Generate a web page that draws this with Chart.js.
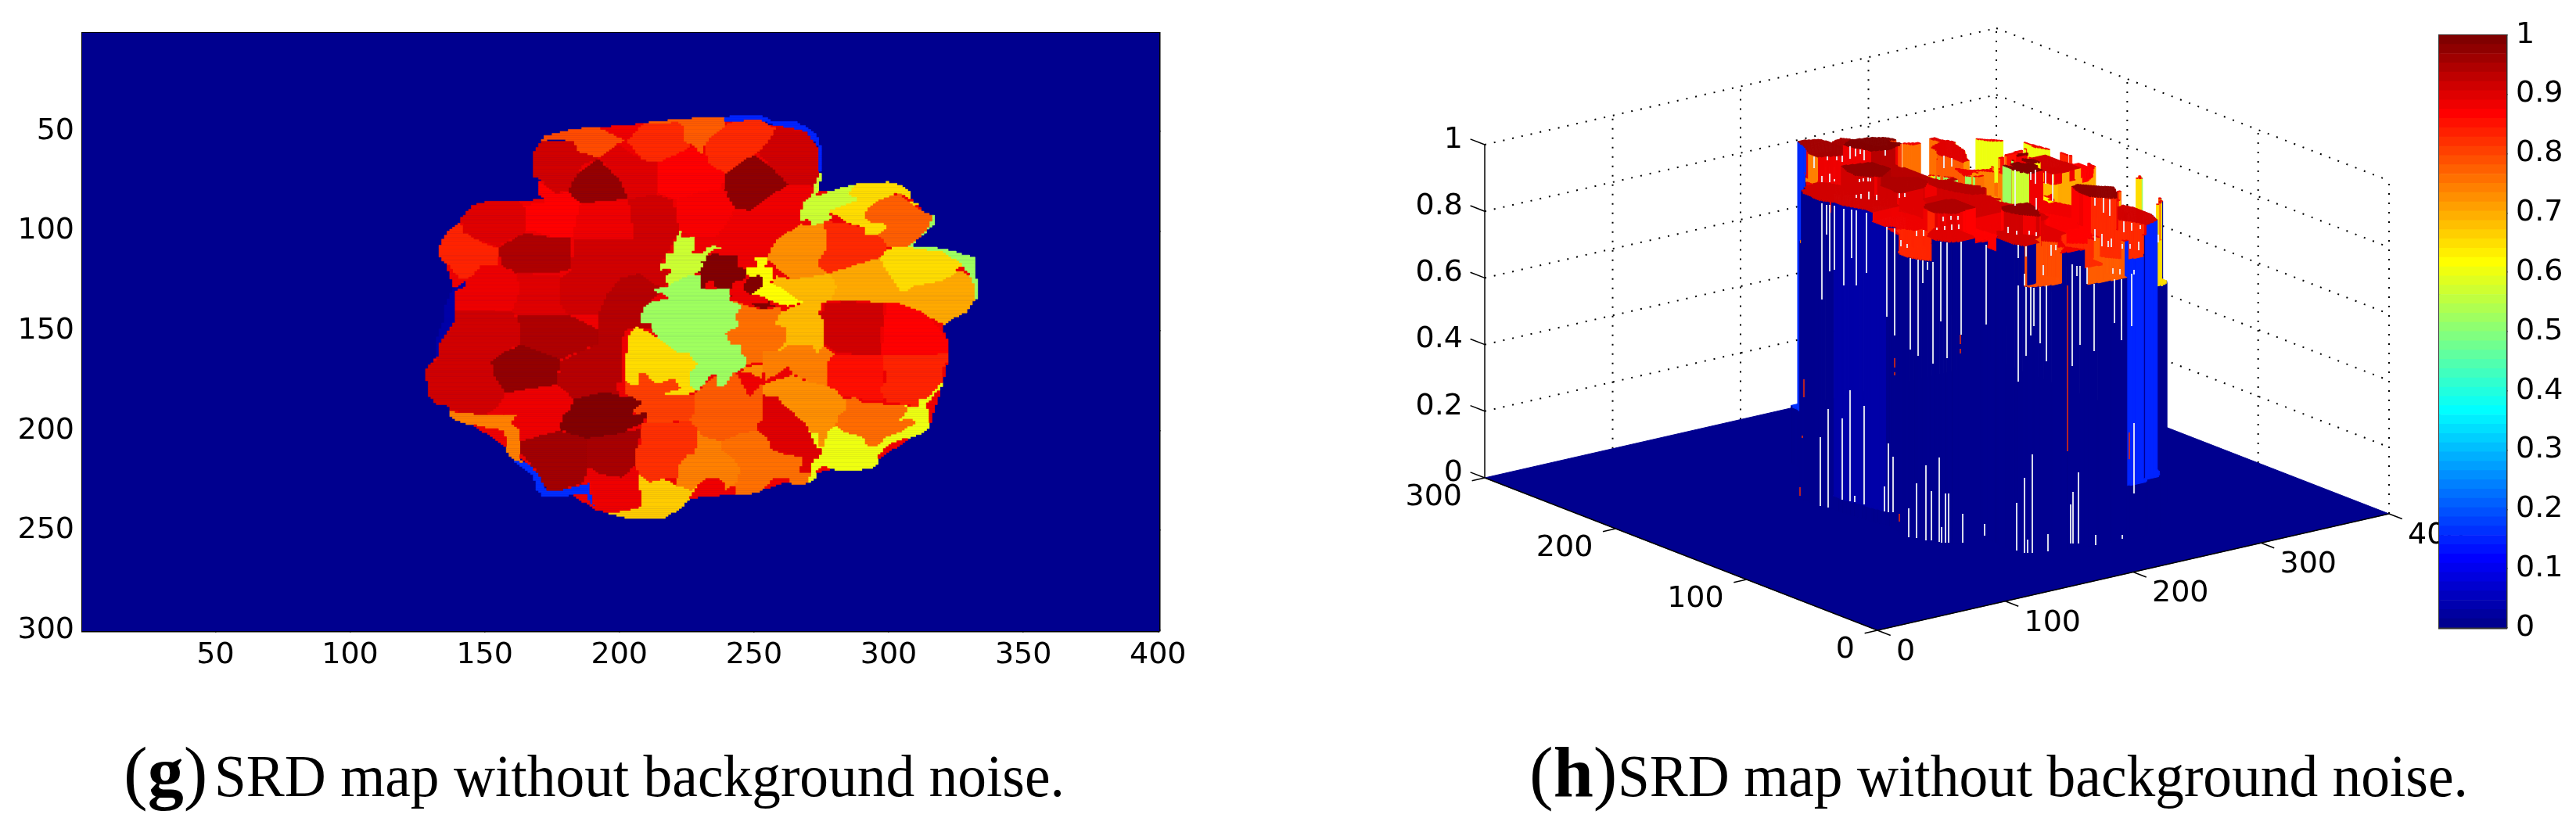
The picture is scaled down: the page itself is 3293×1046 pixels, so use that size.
<!DOCTYPE html>
<html>
<head>
<meta charset="utf-8">
<title>SRD map</title>
<script src="https://cdn.jsdelivr.net/npm/chart.js@4"></script>
<style>
  html, body { margin: 0; padding: 0; background: #fff; width: 3293px; height: 1046px; overflow: hidden; }
  canvas { position: absolute; }
  .cap { position: absolute; white-space: nowrap; font-family: "Liberation Serif", serif; color: #000; line-height: 100px; }
  .cap.let { font-size: 92px; top: 937px; }
  .cap.txt { font-size: 76px; top: 942px; transform: scaleX(0.966); transform-origin: left center; }
</style>
</head>
<body>
<div style="position:absolute;left:0;top:0;width:1560px;height:900px"><canvas id="mapa"></canvas></div>
<div style="position:absolute;left:1750px;top:0;width:1543px;height:900px"><canvas id="sup"></canvas></div>
<div style="position:absolute;left:3100px;top:0;width:193px;height:900px"><canvas id="barra"></canvas></div>
<div class="cap let" style="left:158px">(<b>g</b>)</div>
<div class="cap txt" style="left:274px">SRD map without background noise.</div>
<div class="cap let" style="left:1955px">(<b>h</b>)</div>
<div class="cap txt" style="left:2068px">SRD map without background noise.</div>
<script>
// tick labels
const xTicks = [50, 100, 150, 200, 250, 300, 350, 400];
const yTicks = [50, 100, 150, 200, 250, 300];
const barTicks = [0, 0.1, 0.2, 0.3, 0.4, 0.5, 0.6, 0.7, 0.8, 0.9, 1];
const zTicks3d = [0, 0.2, 0.4, 0.6, 0.8, 1];
const xTicks3d = [0, 100, 200, 300, 400];
const yTicks3d = [0, 100, 200, 300];

// segment outlines of the SRD map, in map pixels (x, row)
const fundo = [[133.5,107],[146,87],[172,84],[169,62],[192,48],[211,46],[240,44],[264,48],[274,60],[272,80],[285,80],[305,80],[316,94],[308,108],[331,115],[332,134],[320,147],[322,164],[320,176],[315,198],[296,214],[273,221],[250,231],[225,234],[205,243],[192,240],[170,222],[160,210],[140,192],[129,180],[133,155],[139,130]];
const azulTopo = [[239.4,42.7],[245.2,41.8],[252,41.8],[256.4,44.6],[264.1,44.6],[269.9,47.9],[273.3,52.4],[275.2,58.9],[275.2,70.5],[274.2,70.5],[274.2,58.9],[272.3,55],[269.9,50.5],[264.1,47.9],[258.3,47.2],[252.5,44],[244.3,44.6],[239.4,44.6]];
const azulEsq = [[139.3,137.8],[139.3,144.3],[136.4,150.7],[133.5,155.9],[133.5,163],[132.5,163],[132.5,152.7],[135.4,143],[135.4,137.8],[136.9,132.6],[138.3,128.8],[143,124.9],[143.1,127.5],[139.3,130]];
const azulBaixo = [[160.5,214.1],[166.4,216.7],[170.2,221.9],[172.6,229.7],[178.9,229.7],[188.6,226.4],[190.5,237.4],[192,240],[189.6,236.8],[187.1,231.6],[178.9,232.9],[171.7,232.9],[169.3,229.7],[168.3,223.2],[162.5,217.4]];
const faixaLaranja = [[137.3,190.2],[150.4,192.1],[162.5,192.1],[159.6,196.7],[163.5,199.9],[163,205.1],[163.5,210.3],[162.5,214.1],[164.4,216.1],[160.5,214.1],[158.1,210.3],[157.2,199.9],[150.4,198.6],[146,197.3],[141.2,196],[137.3,192.8]];
const r1 = [[168.3,60.2],[172.2,52.4],[181.8,49.2],[191.5,47.5],[200.2,53.1],[202.6,55],[199.2,56.3],[192.5,63.4],[184.7,60.2],[182.8,55],[175,53.7],[171.2,55],[169.3,60.2]];
const r2 = [[168.3,60.2],[171.2,55],[182.8,55],[184.7,60.2],[192.5,63.4],[186.7,66.6],[180.9,79.6],[176,80.9],[169.7,73.1],[168.3,73.1]];
const r3 = [[192.5,63.8],[200.2,74.4],[203.6,84.1],[196.3,84.8],[185.7,86.3],[180.4,80.2],[184.7,70.5],[188.6,66.4]];
const r4 = [[192.5,63.4],[199.2,56.3],[208.4,64],[214.2,65.4],[214.2,81.5],[203.1,84.1],[200.2,74.4]];
const r5 = [[203.1,55],[208.4,46.6],[221.5,45.3],[224.4,47.2],[226.3,57.6],[217.6,64],[214.2,65.4],[208.4,64]];
const r6 = [[211.4,45.3],[222,44],[234.1,42.7],[239.4,42.7],[238.9,47.2],[232.2,55],[230.2,62.1],[228.3,57.6],[224.4,55],[224,47.2],[222,45.3],[211.4,46]];
const r7 = [[214.3,65.4],[224,59.5],[228.3,57.6],[230.2,62.1],[232.2,60.8],[239.4,71.2],[238,78.3],[230.2,80.2],[220.6,84.1],[214.3,80.9]];
const r8 = [[232.2,55],[238.9,47.2],[244.3,44.6],[252.5,44],[258.3,49.2],[254.9,55.6],[251,60.8],[244.7,65.4],[239.4,71.2],[233.1,65.4],[232.2,60.8]];
const r9 = [[258.3,47.2],[264.1,47.9],[269.9,50.5],[274.2,58.9],[274.2,70.5],[271.8,77.6],[263.1,77],[256.4,67.9],[251,60.8],[254.9,55.6]];
const r10 = [[248.6,62.5],[251.5,62.5],[256.4,67.9],[263.1,77],[255.9,82.2],[249.1,89.9],[243.3,88.6],[238.5,78.3],[239.4,71.2],[244.7,65.4]];
const r11 = [[220.6,84.1],[230.2,80.2],[238,78.3],[243.3,88.6],[239.9,96.4],[236,102.9],[228.3,103.5],[222.5,100.3],[221.1,93.8]];
const r12 = [[243.3,88.6],[249.1,89.9],[255.9,82.2],[263.1,77],[272.3,77.6],[271.3,81.5],[268.4,86.1],[267,96.4],[258.3,104.2],[253.5,111.9],[246.7,117.1],[243.8,113.2],[234.1,109.3],[227.8,104.2],[236,102.9],[239.9,96.4]];
const r13 = [[274.2,70.5],[275.2,71.2],[273.3,82.2],[282.5,78.3],[288.3,76.3],[284.4,80.9],[288.3,84.1],[277.6,89.9],[279.6,93.8],[271.8,97.1],[269.4,93.8],[267,95.8],[267.1,89.9],[268.4,85.4],[271.3,81.5],[272.3,77]];
const r14 = [[284.4,80.9],[288.3,76.3],[299.9,75.4],[304.7,77],[308.1,80.9],[308.1,86.1],[311.5,87.3],[303.7,80.9],[296.5,84.1],[291.6,88.6],[291.2,93.8],[294,96.4],[297.9,95.8],[298.9,98.3],[296.5,101.6],[291.2,102.2],[291.2,98.3],[284.4,95.8],[277.6,89.9],[288.3,84.1]];
const r15 = [[296.5,84.1],[304.2,80.9],[307.6,85.4],[315.8,92.5],[315.3,97.1],[312.4,101.6],[306.2,108.1],[299.4,108.1],[296,101.6],[298.9,98.3],[297.9,95.8],[294,96.4],[291.2,93.8],[291.6,88.6]];
const r16 = [[315.8,92.5],[317.3,92.5],[316.8,96.4],[312.4,102.2],[308.1,107.4],[320.2,108.7],[331.8,113.2],[331.8,122.3],[333.2,125.5],[333.2,133.9],[331.3,133.9],[330.8,123.6],[327,117.1],[320.2,113.2],[306.2,108.1],[312.4,101.6]];
const r17 = [[299.4,108.7],[306.2,108],[320.2,110.6],[327.4,117.1],[323.1,122.3],[319.2,124.9],[309,127.5],[307.1,130],[304.2,130],[298.9,118.4],[296.5,113.2]];
const r18 = [[278.1,121],[288.3,116.5],[296.5,113.2],[298.9,118.4],[304.2,130],[309,127.5],[319.2,124.9],[324,120.3],[327.9,120.3],[331.3,123.6],[332.3,133.9],[328.9,140.4],[325,143],[320.2,146.9],[316.3,144.3],[312,140.4],[298.9,136.5],[287.3,134.6],[278.6,134.6],[281,128.1]];
const r19 = [[254.4,113.2],[258.3,104.2],[267,96.4],[271.8,97.1],[276.2,95.1],[277.1,108.1],[274.2,117.1],[278.1,121],[264.1,124.2],[258.3,118.4]];
const r20 = [[276.2,95.1],[284.4,96.4],[291.2,98.3],[291.6,102.2],[296.5,101.6],[299.4,108.1],[298.9,111.9],[288.3,117.1],[278.1,121],[273.3,117.1],[277.1,108.1]];
const r21 = [[258.3,122.3],[264.1,124.2],[278.1,121],[281,128.1],[278.6,134.6],[275.2,136.5],[274.2,141.7],[276.2,145.6],[276.2,157.2],[273.3,161.1],[262.2,157.2],[259.3,159.8],[262.2,154.6],[262.2,148.2],[257.3,146.9],[260.2,140.4],[268,135.9],[260.2,128.8],[256.4,126.2]];
const r22 = [[249.6,113.2],[254.9,112.6],[254.4,118.4],[257.3,118.4],[256.4,126.2],[260.2,128.8],[264.1,132.6],[268,135.9],[262.2,137.8],[259.3,136.5],[255.9,135.2],[252.5,132.6],[248.6,132],[252.5,127.5],[253,123.6],[251.5,122.3],[247.7,123.6],[246.7,117.8],[251.5,117.8]];
const r23 = [[232.2,112],[235.1,111.3],[244.3,112.6],[244.3,117.8],[247.2,119],[247.2,124.2],[243.8,124.9],[241.8,126.2],[241.4,134],[242.3,129.4],[237.5,128.8],[234.6,128.1],[235.1,124.9],[232.7,124.6],[232.2,128.8],[230.2,129.4],[230.2,122.3],[229.3,121],[231.2,115.8],[229.3,115.8],[232.2,114.5]];
const r23b = [[246.7,124.2],[251.5,122.3],[253.3,123.6],[253,127.5],[249.6,131.3],[248.6,132.6],[249.6,136.5],[255.4,136.5],[255.9,131.3],[256.4,136.5],[259.3,137.2],[253.5,139.1],[249.6,137.8],[248.6,132.6],[246.2,129.4]];
const r24 = [[222.5,100.3],[223.5,103.5],[228.3,103.5],[227.3,111.3],[231.2,111.3],[232.2,108.1],[235.1,106.8],[238.9,108.7],[235.1,109.3],[232.7,112],[231.2,115.8],[229.3,121],[224.9,122.3],[217.7,128.1],[217.2,122.3],[219.1,119.7],[217.7,118.4],[215.3,120.3],[215.3,116.5],[217.2,116.5],[217.2,111.3],[220.1,111.3],[220.6,103.5]];
const r25 = [[225.9,121.6],[230.2,122.3],[230.2,129.4],[235.1,128.8],[241.4,127.5],[241.4,134.6],[245.2,137.8],[242.3,143],[244.3,146.9],[239.4,151.4],[240.9,156.6],[245.2,157.2],[245.2,161.1],[247.2,164.3],[246.7,168.2],[242.3,171.4],[239,177.9],[236,177.9],[236,172.1],[233.6,172.7],[229.3,180.5],[228.3,180.5],[225.4,176],[226.4,170.2],[228.8,166.9],[224.9,160.4],[222,161.7],[215.3,154.6],[211.9,150.1],[212.4,145.6],[207.5,145.6],[208.5,141],[209.5,137.8],[211.9,135.2],[218.2,133.9],[214.8,130.7],[212.4,129.4],[217.7,127.5]];
const r26 = [[202.7,152.7],[206.1,148.2],[211.9,150.7],[214.8,154.6],[222,161.7],[224.9,160.4],[228.8,166.9],[226.4,170.2],[226.4,172.7],[225.4,176],[228.3,180.5],[225.4,181.8],[217.7,182.4],[217.2,181.2],[223,179.2],[220.1,173.4],[216.7,175.3],[213.3,176],[209.5,170.8],[206.6,171.4],[207,176.6],[203.6,176.6],[202.2,174]];
const r27 = [[202.2,174.7],[207,176.6],[206.6,171.4],[209.5,170.8],[213.3,176],[220.1,173.4],[223,179.2],[217.2,181.8],[225.4,182.4],[228.3,181.2],[228.3,190.9],[226.4,194.7],[221.5,195.4],[209.9,196],[209.5,190.9],[205.6,192.1],[205.1,188.9],[208,187],[208,185.7],[202.2,181.8]];
const r28 = [[228.3,181.2],[236,172.1],[236,177.9],[239,177.9],[242.3,171.4],[243.8,172.1],[248.1,183.7],[253,176.6],[253,181.8],[253,194.7],[251,196],[251.5,199.9],[244.7,201.2],[238.5,205.1],[231.2,203.1],[229.3,199.9],[226.4,194.7],[228.3,190.9]];
const r29 = [[241.4,134.6],[249.6,138],[253.5,139.5],[260.2,137.8],[259.3,143],[257.3,146.9],[262.2,148.2],[262.2,154.6],[259.3,159.8],[253.5,160.4],[253.5,165.6],[247.2,166.9],[247.2,164.3],[245.2,161.1],[245.2,157.2],[240.9,156.6],[239.4,151.4],[244.3,146.9],[242.3,143]];
const r30 = [[262.2,157.2],[271.8,157.2],[273.3,161.1],[275.7,157.2],[280,161.7],[276.7,165.6],[277.1,177.9],[270.9,176],[264.1,171.4],[262.6,168.2],[254.4,175.3],[253.5,171.4],[253.5,165.6],[253.5,160.4],[259.3,159.8]];
const r30b = [[246.7,168.2],[253.5,166.3],[253.5,175.3],[248.6,170.8],[244.3,171.2]];
const r31 = [[253.5,176.6],[264.1,172.1],[270.9,176],[277.1,177.9],[279.6,179.2],[282.5,183.1],[284.4,184.4],[283.9,189.6],[281.5,192.1],[280,198],[276.7,201.2],[276.2,208.3],[274.2,208.3],[274.2,201.2],[271.3,201.2],[269.4,197.3],[265.1,192.1],[260.2,186.3],[258.3,183.1],[253.5,182.4]];
const r32 = [[253.5,182.4],[258.3,183.1],[260.2,186.3],[265.1,192.1],[269.4,197.3],[272.3,203.8],[272.8,208.3],[275.2,209.6],[274.2,213.5],[271.8,214.1],[270.9,220.6],[267,220.6],[268.4,213.5],[264.1,212.2],[259.3,210.9],[256.4,209],[255.9,205.1],[251,198.6],[251.5,196],[253,193.4],[253.5,189.6]];
const r33 = [[229.3,199.9],[231.2,203.1],[238.5,205.1],[238.5,210.3],[242.3,214.1],[245.2,219.3],[243.3,227.1],[239.4,229.7],[238.9,226.4],[236.5,223.9],[232.2,224.2],[229.3,227.1],[226.4,229.7],[220.6,227.1],[222,218],[223.5,215.4],[225.4,212.2],[228.3,211.6]];
const r33b = [[238.5,205.1],[244.7,201.2],[251.5,199.9],[255.9,205.1],[256.4,209],[259.3,210.9],[268.4,213.5],[267,220.6],[270.9,221.3],[269.9,226.4],[264.1,227.1],[262.2,223.9],[257.3,223.9],[255.4,227.7],[252,230.3],[249.1,231.6],[243.3,231.6],[243.3,227.1],[245.2,219.3],[242.3,214.1],[238.5,210.3]];
const r34 = [[208.5,196],[219.6,196],[226.4,194.7],[229.3,199.9],[228.3,211.6],[225.4,212.2],[222,218],[222,223.9],[216.7,223.9],[210.9,225.8],[207,221.9],[205.6,215.4],[206.6,208.3],[208.5,205.1]];
const r35 = [[207.5,221.9],[210.9,225.8],[216.7,223.9],[220.6,227.1],[226.4,229.7],[230.2,225.8],[227.8,231],[225.4,234.9],[223,238.7],[215.3,244.5],[205.6,244.5],[196.3,241.5],[202.2,240],[208,238.1],[208.5,233.6],[207.5,229.7]];
const r36 = [[269.4,197.3],[271.3,201.2],[274.2,201.2],[274.2,208.3],[276.2,208.3],[276.7,201.2],[280,198],[284.4,201.2],[290.2,203.2],[292.1,208.3],[295.5,208.3],[298.9,203.8],[303.7,201.2],[310,196.7],[309.1,194.1],[303.3,194.7],[306.2,192.1],[307.1,187.6],[303.3,187],[308.1,187.6],[311,187.6],[311.5,184.4],[314.9,183.1],[319.2,176],[320.2,175.3],[319.7,177.9],[314.4,186.3],[314.9,198],[312.4,201.2],[307.1,203.8],[302.3,205.7],[298.9,208.3],[296,212.9],[296,216.1],[293.6,218.7],[287.3,220],[282,220],[278.6,219.3],[275.2,218],[273.3,220.6],[272.8,223.2],[270.4,225.8],[268.4,225.8],[270.9,221.3],[271.8,214.1],[274.2,213.5],[275.2,209.6],[272.8,208.3]];
const r37 = [[284.4,184.4],[287.3,183.1],[290.6,185.7],[303.3,187],[307.1,187.6],[306.2,192.1],[303.3,194.7],[309.1,194.1],[310,196.7],[303.7,201.2],[298.9,203.8],[295.5,208.3],[292.1,208.3],[290.2,203.2],[284.4,201.2],[280,198],[281.5,192.1],[283.9,189.6]];
const r38 = [[276.2,135.6],[287.3,135.4],[297.9,136.5],[297,162.4],[287.3,161.7],[279.6,160.4],[276.2,157.2],[276.2,145.6],[274.2,141.7],[276.2,139]];
const r39 = [[298.9,136.5],[303.7,136.5],[312,140.4],[313.2,141.7],[316.3,144.3],[319.7,150.7],[322.1,154.6],[322.1,161.1],[308.6,162.4],[297,162.4]];
const r40 = [[276.2,165.6],[280,161.7],[287.3,161.7],[297.9,162.4],[298.9,184.4],[290.6,185],[287.3,183.1],[282.5,183.1],[279.6,179.2],[277.1,177.9],[276.7,165.6]];
const r41 = [[297.9,162.4],[308.6,162.4],[322.1,161.1],[322.1,164.3],[320.2,168.2],[320.2,175.3],[314.4,183.1],[311.5,184.4],[311,187.6],[308.1,187.6],[303.3,186.3],[298.9,185.7],[297,179.2],[298.9,175.3]];
const l1 = [[141.2,93.8],[146,86.7],[152.3,84.8],[162.5,85.4],[164.4,86.7],[165.4,100.3],[155.7,106.8],[155.7,108],[148,104.8],[142.2,100.3]];
const l2 = [[133.5,106.8],[136.4,99.6],[141.2,95.1],[142.2,100.3],[148,104.8],[155.2,108.7],[155.2,116.5],[148.5,117.1],[145.1,122.3],[143.1,124.2],[140.2,123.6],[136.4,117.1],[133.5,113.2]];
const l3 = [[164.4,86.7],[172.2,86.1],[172.2,83.5],[169.7,81.5],[169.7,73.8],[176,80.9],[180.4,80.2],[185.7,86.3],[184.2,93.8],[182.8,102.9],[175,102.9],[168.3,100.3],[165.4,100.3]];
const l4 = [[185.7,86.3],[196.3,84.8],[203.1,84.1],[204.1,95.1],[205.5,104.2],[182.8,103.5],[184.2,93.8]];
const l5 = [[182.8,103.5],[205.5,104.2],[203.1,84.1],[211.8,80.9],[220,84.1],[222,100.3],[221,102.9],[217.6,111.9],[215.2,117.1],[219,121],[217.1,128.8],[212.8,128.8],[207,121],[200.2,123.6],[195.4,131.3],[192.5,141.7],[178,141.7],[178.4,123.6],[182.3,119.7]];
const l6 = [[195.4,131.3],[200.2,123.6],[207,121],[212.8,126.2],[217.1,128.8],[211.8,135.2],[208.4,141.7],[208.4,145.6],[211.8,145.6],[211.8,149.4],[203.1,148.8],[200.7,154.6],[201.2,175.3],[198.3,176.6],[200.2,182.4],[194.4,180.5],[183.3,184.4],[176.5,177.3],[178.4,165],[191.5,156.6],[192.5,149.4],[192.5,144.3],[192,141.7]];
const l8 = [[161.5,121],[178.4,122.3],[178,136.5],[180.9,141.7],[160.5,141.7],[159.6,137.8]];
const l9 = [[144.6,123.6],[148.5,117.1],[155.2,116.5],[161.5,121],[163.5,128.8],[160.5,139.1],[139.3,140.4],[139.3,130],[143.1,127.5],[143.1,124.9]];
const l10 = [[155.2,108],[164.4,100.9],[175,102.9],[182.3,103.5],[182.3,119],[177,121],[161.5,121],[155.7,116.5]];
const l11 = [[139.3,139.7],[160.1,139.7],[162.5,145.6],[163.5,155.9],[152.3,165],[153.3,172.7],[157.6,181.2],[154.7,187.6],[150.4,192.1],[137.8,190.2],[136.4,187.6],[132,187],[128.6,181.2],[128.4,168.9],[131.1,165],[133.5,162.4],[133.5,155.9],[136.4,150.7],[139.3,144.3]];
const l12 = [[163.5,156.6],[169.3,159.8],[178.4,164.3],[176.5,177.3],[169.3,178.6],[157.6,181.2],[153.3,172.7],[152.3,165],[157.6,160.4]];
const l13 = [[161.5,141.7],[181.8,142.3],[192.5,149.4],[191.5,156.6],[178.4,164.3],[169.3,159.8],[163.5,156.6],[162.5,145.6]];
const l14 = [[157.6,181.2],[169.3,178.6],[176,177.3],[183.3,184.4],[181.3,190.9],[179.4,192.1],[177.5,199.3],[163.5,205.1],[162.5,198.6],[159.6,196],[162.5,192.1],[151.8,190.9],[154.7,187.6]];
const l15 = [[183.3,184.4],[194.4,180.5],[199.2,182.4],[207,183.7],[208.4,186.3],[205.5,189.6],[205.5,192.1],[210.4,190.2],[208.9,196.7],[200.2,201.2],[187.6,203.8],[177.5,199.3],[179.4,192.1],[181.3,190.9]];
const l16 = [[163.5,205.1],[177.5,199.9],[188.1,203.8],[188.1,218.7],[187.1,225.8],[178.9,229.7],[173.1,229.7],[169.3,220.6],[162.5,210.3]];
const l17 = [[188.1,203.1],[200.2,201.2],[208.4,198.6],[206.5,209],[205.5,218],[201.2,223.9],[192.9,221.9],[188.1,218.7]];
const l18 = [[188.1,219.3],[190.1,219.3],[192.9,221.9],[201.2,223.9],[205.5,218.7],[207,221.9],[208.4,237.4],[202.1,239.4],[192.5,240],[190,227.1],[187.6,225.8]];

// in paint order, later shapes lie on top; second entry is the SRD value of the segment
const segmentos = [
  [fundo, 0.89], [azulTopo, 0.16], [azulEsq, 0.04], [azulBaixo, 0.17], [faixaLaranja, 0.75],
  [l5, 0.92], [l6, 0.945], [l8, 0.905], [l9, 0.892], [l10, 0.953], [l11, 0.92], [l13, 0.953], [l12, 0.98],
  [l1, 0.905], [l2, 0.84], [l3, 0.875], [l4, 0.89], [l14, 0.892], [l16, 0.965], [l17, 0.96], [l18, 0.892], [l15, 0.997],
  [r1, 0.8], [r2, 0.92], [r4, 0.905], [r3, 0.978], [r5, 0.834], [r6, 0.785], [r7, 0.875], [r8, 0.834], [r9, 0.92], [r10, 0.984], [r11, 0.88], [r12, 0.89],
  [r19, 0.734], [r20, 0.834], [r13, 0.575], [r16, 0.532], [r14, 0.658], [r15, 0.782], [r18, 0.708], [r17, 0.658], [r21, 0.692],
  [r38, 0.92], [r39, 0.875], [r40, 0.86], [r41, 0.84],
  [r29, 0.765], [r30, 0.75], [r30b, 0.734], [r31, 0.734], [r32, 0.905], [r37, 0.77], [r36, 0.608],
  [r28, 0.785], [r27, 0.8125], [r33, 0.75], [r33b, 0.765], [r34, 0.8275], [r35, 0.675],
  [r24, 0.575], [r25, 0.532], [r26, 0.658], [r22, 0.625], [r23, 0.997], [r23b, 0.997],
];

// gaps in the surface: [plane x, top, bottom]
const fendasBrancas = [
  [2329,260,383],[2335,262,300],[2339,262,347],[2345,263,345],[2357,267,365],[2367,268,330],[2373,269,365],[2386,272,349],
  [2412,290,405],[2422,292,429],[2442,330,447],[2452,332,455],[2458,333,362],[2464,335,345],[2471,335,465],[2481,309,411],
  [2489,310,458],[2507,309,428],[2539,313,415],[2580,365,488],[2590,367,455],[2596,367,429],[2600,368,417],[2608,367,439],
  [2616,365,462],[2649,338,468],[2655,340,353],[2659,340,441],[2668,342,363],[2677,363,449],[2703,357,413],[2712,357,435],[2725,350,417],
  [2327,559,647],[2337,523,649],[2355,535,639],[2365,499,641],[2371,634,642],[2383,519,645],[2409,622,654],[2414,567,655],[2420,584,655],
  [2440,650,687],[2450,618,688],[2462,595,691],[2469,628,691],[2479,585,693],[2482,674,694],[2487,631,694],[2491,631,694],[2509,657,694],
  [2537,670,685],[2578,643,704],[2588,611,707],[2592,690,707],[2598,581,707],[2618,683,705],[2647,645,695],[2650,629,695],[2657,604,695],
  [2679,684,697],[2713,684,689],[2728,541,631],
  [2319,200,215],[2329,225,233],[2339,222,233],[2345,229,232],[2365,187,203],[2372,190,200],[2378,191,197],[2383,192,205],[2410,192,199],
  [2336,200,205],[2348,200,205],[2355,199,207],[2485,199,215],[2495,202,213],[2576,217,263],[2596,220,230],[2602,217,235],[2603,253,268],
  [2615,219,235],[2624,223,257],[2678,253,263],[2689,253,272],[2697,255,276],[2715,283,297],[2725,285,295],[2736,288,293],[2678,293,308],
  [2687,299,315],[2695,308,316],[2699,305,316],[2713,312,318],[2723,312,318],[2734,309,320],[2612,339,352],[2622,313,327],[2628,313,320],
  [2580,313,330],[2590,315,328],[2430,307,315],[2438,312,317],[2450,295,302],[2459,294,302],[2484,277,283],[2494,276,281],[2503,276,281],
  [2759,300,310],[2377,229,233],[2382,228,232],[2388,227,232],[2391,228,232],[2373,249,253],[2379,248,254],[2389,245,255],[2399,249,256],
  [2428,247,253],[2435,247,252],[2588,350,365],[2701,343,350],[2710,344,351],[2728,345,351],[2567,290,298],[2578,295,300],[2594,295,300],
  [2603,297,302],[2476,291,294],[2486,289,294],[2495,287,294],[2504,287,293],
];
const fendasVermelhas = [[2643,365,577],[2506,428,440],[2506,446,452],[2422,458,470],[2422,476,480],[2306,485,508],[2304,557,560],[2301,623,634],[2428,657,667],[2722,553,587]];

const PRETO = "#000";
const FONTE = { family: "'DejaVu Sans', sans-serif", size: 38 };
const PASSO = 1;
const AZUL_FUNDO = 1 / 64;

function limitar(v) { return Math.max(0, Math.min(1, v)); }

function jet(v) {
  const r = limitar(1.5 - Math.abs(4 * v - 3));
  const g = limitar(1.5 - Math.abs(4 * v - 2));
  const b = limitar(1.5 - Math.abs(4 * v - 1));
  return `rgb(${Math.round(r * 255)},${Math.round(g * 255)},${Math.round(b * 255)})`;
}

function dentro(p, x, y) {
  let d = false;
  for (let i = 0, j = p.length - 1; i < p.length; j = i++) {
    if ((p[i][1] > y) !== (p[j][1] > y) &&
        x < (p[j][0] - p[i][0]) * (y - p[i][1]) / (p[j][1] - p[i][1]) + p[i][0]) d = !d;
  }
  return d;
}

function alturaEm(x, y) {
  for (let k = segmentos.length - 1; k >= 0; k--) {
    if (dentro(segmentos[k][0], x, y)) return segmentos[k][1];
  }
  return 0;
}

// pixel grid of the map, filled from the segments
const x0 = 124, x1 = 338, y0 = 38, y1 = 248;
const grade = [];
for (let j = 0; j * PASSO <= y1 - y0; j++) {
  const linha = [];
  for (let i = 0; i * PASSO <= x1 - x0; i++) linha.push(alturaEm(x0 + i * PASSO + PASSO / 2, y0 + j * PASSO + PASSO / 2));
  grade.push(linha);
}
function h(i, j) { return j < 0 || i < 0 || !grade[j] || grade[j][i] === undefined ? 0 : grade[j][i]; }

// view used by the 3D axes: corners
function proj(x, y, z) {
  return { x: 2400 + x * 1.635 - y * 1.6733, y: 806 - x * 0.3725 - y * 0.65 - z * 426 };
}

function eixoFixo(larg, alt) {
  return (s) => {
    if (larg !== null) s.width = larg;
    if (alt !== null) s.height = alt;
  };
}

function eixoMapa(pos, ticks, min, max, rev, mostra, fixo) {
  return {
    type: "linear", position: pos, min, max, reverse: rev,
    afterBuildTicks: (s) => { s.ticks = ticks.map((v) => ({ value: v })); },
    afterFit: fixo,
    border: { display: true, color: PRETO, width: 2.5 },
    grid: { drawOnChartArea: false, drawTicks: true, tickLength: -9, color: PRETO, lineWidth: 1.5 },
    ticks: { display: mostra, color: PRETO, font: FONTE, padding: pos === "left" ? 19 : 17, maxRotation: 0, autoSkip: false, callback: (v) => String(v) },
  };
}

// left map: one dataset per colour, each holding the row runs of that colour
const porCor = new Map();
for (let j = 0; j < grade.length; j++) {
  const y = y0 + j * PASSO;
  let i = 0;
  while (i < grade[j].length) {
    const v = grade[j][i];
    let k = i;
    while (k + 1 < grade[j].length && grade[j][k + 1] === v) k++;
    if (v > 0) {
      const xa = x0 + i * PASSO, xb = x0 + (k + 1) * PASSO;
      if (!porCor.has(v)) porCor.set(v, []);
      porCor.get(v).push({ x: xa, y }, { x: xb, y }, { x: xb, y: y + PASSO }, { x: xa, y: y + PASSO }, { x: xa, y }, { x: NaN, y: NaN });
    }
    i = k + 1;
  }
}
const conjuntosMapa = [...porCor].map(([v, data]) => ({
  data, showLine: true, fill: "shape", backgroundColor: jet(v), borderColor: jet(v), borderWidth: 0.6, pointRadius: 0,
}));
// background goes last: Chart.js paints the first dataset on top
conjuntosMapa.push({
  data: [{ x: 0.5, y: 0.5 }, { x: 400.5, y: 0.5 }, { x: 400.5, y: 300.5 }, { x: 0.5, y: 300.5 }],
  showLine: true, fill: "shape", backgroundColor: jet(AZUL_FUNDO), borderWidth: 0, pointRadius: 0,
});

new Chart(document.getElementById("mapa"), {
  type: "scatter",
  data: { datasets: conjuntosMapa },
  options: {
    responsive: true, maintainAspectRatio: false, animation: false, events: [],
    layout: { padding: { left: 0, top: 36, right: 78, bottom: 0 } },
    plugins: { legend: { display: false }, tooltip: { enabled: false } },
    scales: {
      x: eixoMapa("bottom", xTicks, 0.5, 400.5, false, true, eixoFixo(null, 93)),
      x2: eixoMapa("top", xTicks, 0.5, 400.5, false, false, eixoFixo(null, 0)),
      y: eixoMapa("left", yTicks, 0.5, 300.5, true, true, eixoFixo(105, null)),
      y2: eixoMapa("right", yTicks, 0.5, 300.5, true, false, eixoFixo(0, null)),
    },
  },
});

// 3D surface, built back to front from the same grid
const conjuntos3d = [];

function linha3d(pontos, cor, largura, traco) {
  conjuntos3d.push({
    data: pontos.map((p) => proj(p[0], p[1], p[2])), showLine: true, fill: false,
    borderColor: cor, borderWidth: largura, borderDash: traco || [], pointRadius: 0,
  });
}

function face(cantos, v) {
  const cor = jet(v);
  const pts = cantos.map((p) => proj(p[0], p[1], p[2]));
  pts.push(pts[0]);
  const ult = conjuntos3d[conjuntos3d.length - 1];
  if (ult && ult.backgroundColor === cor) {
    ult.data.push({ x: NaN, y: NaN }, ...pts);
  } else {
    conjuntos3d.push({ data: pts, showLine: true, fill: "shape", backgroundColor: cor, borderColor: cor, borderWidth: 1, pointRadius: 0 });
  }
}

const PONTOS = [2, 10];
[0.2, 0.4, 0.6, 0.8, 1].forEach((z) => {
  linha3d([[0, 300, z], [400, 300, z]], PRETO, 2, PONTOS);
  linha3d([[400, 300, z], [400, 0, z]], PRETO, 2, PONTOS);
});
[100, 200, 300, 400].forEach((x) => linha3d([[x, 300, 0], [x, 300, 1]], PRETO, 2, PONTOS));
[0, 100, 200].forEach((y) => linha3d([[400, y, 0], [400, y, 1]], PRETO, 2, PONTOS));
linha3d([[0, 300, 0], [0, 300, 1]], PRETO, 1.5);
zTicks3d.forEach((z) => linha3d([[0, 300, z], [0, 311, z]], PRETO, 1.5));
xTicks3d.forEach((x) => linha3d([[x, 0, 0], [x, -10, 0]], PRETO, 1.5));
yTicks3d.forEach((y) => linha3d([[0, y, 0], [-10, y, 0]], PRETO, 1.5));

face([[0, 0, 0], [400, 0, 0], [400, 300, 0], [0, 300, 0]], AZUL_FUNDO);
linha3d([[0, 300, 0], [0, 0, 0], [400, 0, 0]], PRETO, 1.5);

for (let j = grade.length - 1; j >= 0; j--) {
  const y = y0 + j * PASSO;
  let i = grade[j].length - 1;
  while (i >= 0) {
    const z = h(i, j), zf = h(i, j - 1);
    let k = i;
    while (k > 0 && h(k - 1, j) === z && h(k - 1, j - 1) === zf) k--;
    const xa = x0 + k * PASSO, xb = x0 + (i + 1) * PASSO;
    if (z > 0) {
      if (zf < z) face([[xa, y, zf], [xb, y, zf], [xb, y, z], [xa, y, z]], Math.max(zf, AZUL_FUNDO));
      const ze = h(k - 1, j);
      if (ze < z) face([[xa, y, ze], [xa, y + PASSO, ze], [xa, y + PASSO, z], [xa, y, z]], Math.max(ze, AZUL_FUNDO));
      face([[xa, y, z], [xb, y, z], [xb, y + PASSO, z], [xa, y + PASSO, z]], z);
    }
    i = k - 1;
  }
}

function fendas(lista, cor, larg) {
  const dados = [];
  lista.forEach(([x, a, b]) => dados.push({ x, y: a }, { x, y: b }, { x: NaN, y: NaN }));
  conjuntos3d.push({ data: dados, showLine: true, fill: false, borderColor: cor, borderWidth: larg, pointRadius: 0 });
}
fendas(fendasBrancas, "#eef0f6", 1.8);
fendas(fendasVermelhas, "#e02a10", 1.6);

new Chart(document.getElementById("sup"), {
  type: "scatter",
  data: { datasets: conjuntos3d.reverse() },
  options: {
    responsive: true, maintainAspectRatio: false, animation: false, events: [],
    layout: { padding: 0 },
    plugins: { legend: { display: false }, tooltip: { enabled: false } },
    scales: {
      x: { type: "linear", min: 1750, max: 3293, display: false },
      y: { type: "linear", min: 0, max: 900, reverse: true, display: false },
    },
  },
  plugins: [{
    id: "rotulos3d",
    afterDatasetsDraw(c) {
      const { ctx, scales } = c;
      const pos = (p, dx, dy) => [scales.x.getPixelForValue(p.x + dx), scales.y.getPixelForValue(p.y + dy)];
      ctx.save();
      ctx.fillStyle = PRETO;
      ctx.font = `${FONTE.size}px ${FONTE.family}`;
      ctx.textBaseline = "middle";
      ctx.textAlign = "right";
      zTicks3d.forEach((z) => { const [a, b] = pos(proj(0, 300, z), -28, -6); ctx.fillText(String(z), a, b); });
      yTicks3d.forEach((y) => { const [a, b] = pos(proj(0, y, 0), -29, 25); ctx.fillText(String(y), a, b); });
      ctx.textAlign = "left";
      xTicks3d.forEach((x) => { const [a, b] = pos(proj(x, 0, 0), 24, 28); ctx.fillText(String(x), a, b); });
      ctx.restore();
    },
  }],
});

// colour bar
const niveis = Array.from({ length: 64 }, (_, k) => (k + 1) / 64);

function eixoBarra(pos, mostra, larg) {
  return {
    type: "linear", position: pos, min: 0, max: 1,
    afterBuildTicks: (s) => { s.ticks = barTicks.map((v) => ({ value: v })); },
    afterFit: eixoFixo(larg, null),
    border: { display: true, color: "#333", width: 2.5 },
    grid: { drawOnChartArea: false, drawTicks: true, tickLength: -10, color: "#222", lineWidth: 1.5 },
    ticks: { display: mostra, color: PRETO, font: FONTE, padding: 22, autoSkip: false, callback: (v) => String(v) },
  };
}

new Chart(document.getElementById("barra"), {
  type: "bar",
  data: {
    labels: [""],
    datasets: niveis.map((t, k) => ({ data: [[k / 64, t]], backgroundColor: jet(t), borderWidth: 0, barPercentage: 1, categoryPercentage: 1, grouped: false, yAxisID: "y" })),
  },
  options: {
    responsive: true, maintainAspectRatio: false, animation: false, events: [],
    layout: { padding: { left: 18, top: 36, right: 0, bottom: 0 } },
    plugins: { legend: { display: false }, tooltip: { enabled: false } },
    scales: {
      x: { position: "bottom", afterFit: eixoFixo(null, 97), ticks: { display: false }, grid: { display: false }, border: { display: true, color: "#333", width: 2.5 } },
      x2: { position: "top", type: "category", labels: [""], afterFit: eixoFixo(null, 0), ticks: { display: false }, grid: { display: false }, border: { display: true, color: "#333", width: 2.5 } },
      y: eixoBarra("right", true, 89),
      y2: eixoBarra("left", false, 0),
    },
  },
});
</script>
</body>
</html>
